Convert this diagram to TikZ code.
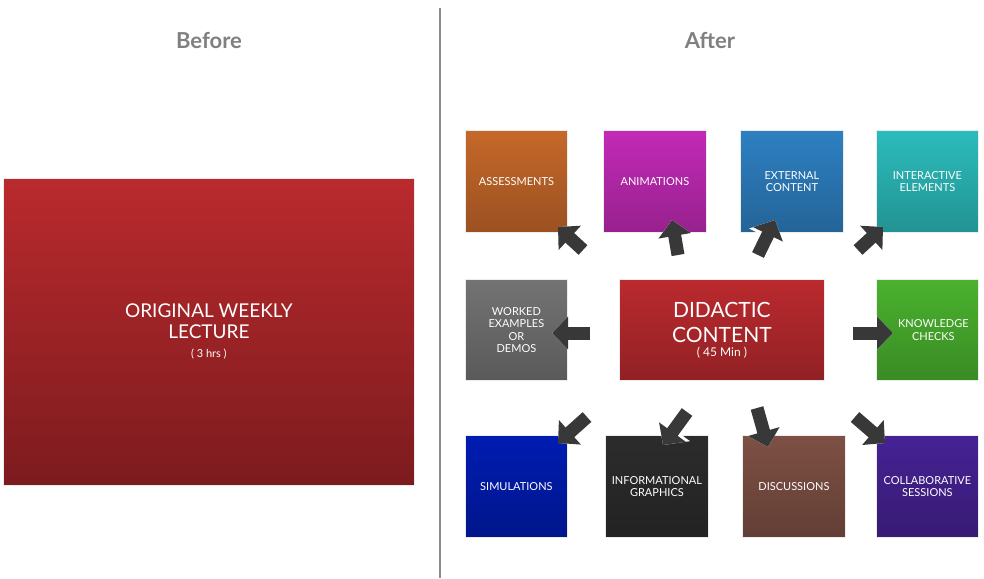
\documentclass[tikz,border=0pt]{standalone}
\usepackage{fontspec}
\setmainfont{Lato}
\usetikzlibrary{arrows.meta,shadings}
\begin{document}
\begin{tikzpicture}[x=1pt,y=-1pt,
  box/.style={draw=white!85!gray,line width=0.8pt,inner sep=0pt,anchor=north west,text=white,font=\fontsize{11}{12.5}\selectfont,align=center},
  title/.style={text=black!50,font=\fontsize{22}{24}\selectfont\bfseries},
  arr/.style={line width=13pt,draw=black!78,-{Triangle[length=16pt,width=32pt]},
    preaction={draw=white,line width=17pt,-{Triangle[length=19pt,width=38pt]}}}]
\useasboundingbox (0,0) rectangle (984,578);
\fill[white] (0,0) rectangle (984,578);
\node[title] (tb) at (209,40) {Before};
\node[title] (ta) at (710,40) {After};
\coordinate (d1) at (440,8); \coordinate (d2) at (440,578);
\draw[black!45,line width=1.5pt] (d1) -- (d2);
\definecolor{rtop}{RGB}{186,42,45}\definecolor{rbot}{RGB}{124,27,30}
\node[box,minimum width=411,minimum height=307,top color=rtop,bottom color=rbot,font=\fontsize{19}{21}\selectfont] (orig) at (3,178) {ORIGINAL WEEKLY\\LECTURE\\[-2pt]\fontsize{11}{12}\selectfont ( 3 hrs )};
\newcommand\mybox[7]{\definecolor{c#1}{RGB}{#6}\node[box,minimum width=#4,minimum height=#5,top color=c#1,bottom color=c#1!78!black] (#1) at (#2,#3) {#7};}
\mybox{as}{465}{130}{102}{102}{198,104,42}{ASSESSMENTS}
\mybox{an}{603}{130}{103}{102}{194,42,182}{ANIMATIONS}
\mybox{ex}{740}{130}{103}{102}{46,128,194}{EXTERNAL\\CONTENT}
\mybox{ie}{876}{130}{102}{102}{44,188,188}{INTERACTIVE\\ELEMENTS}
\mybox{wo}{465}{279}{102}{101}{115,115,115}{WORKED\\EXAMPLES\\OR\\DEMOS}
\mybox{di}{619}{279}{205}{101}{186,42,46}{\fontsize{21}{23}\selectfont DIDACTIC\\[9pt]\fontsize{21}{23}\selectfont CONTENT\\[1pt]\fontsize{12}{13}\selectfont ( 45 Min )}
\mybox{kn}{876}{279}{102}{101}{74,178,46}{\hspace*{12pt}KNOWLEDGE\\\hspace*{12pt}CHECKS}
\mybox{si}{465}{435}{102}{102}{0,28,178}{SIMULATIONS}
\mybox{in}{605}{435}{103}{102}{44,44,44}{INFORMATIONAL\\GRAPHICS}
\mybox{dc}{742}{435}{103}{102}{126,80,68}{DISCUSSIONS}
\mybox{co}{876}{435}{102}{102}{70,34,148}{COLLABORATIVE\\SESSIONS}
\foreach \n/\ax/\ay/\qx/\qy in {a1/583/250/558/227, a2/678/255/672/220, a3/758/255/775/220, a4/858/250/883/227,
  a5/590/333/552/333, a6/853/333/893/333, a7/587/417/558/443, a8/687/412/663/445, a9/757/408/768/447, a10/855/417/885/443}{
  \coordinate (\n s) at (\ax,\ay); \coordinate (\n e) at (\qx,\qy);
  \draw[arr] (\n s) -- (\n e);}
\end{tikzpicture}
\end{document}
